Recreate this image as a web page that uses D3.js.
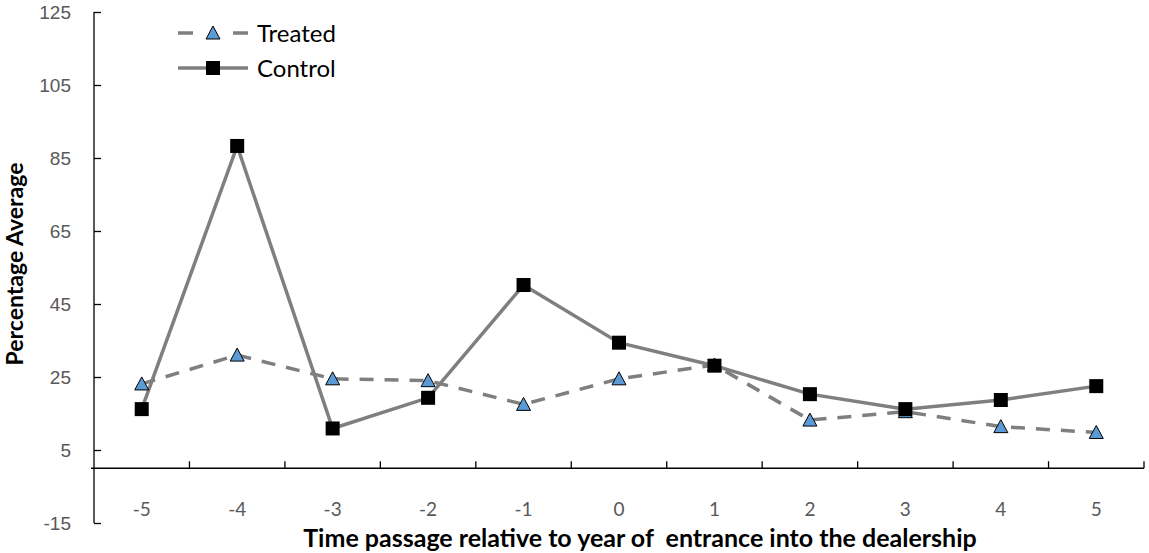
<!DOCTYPE html>
<html>
<head>
<meta charset="utf-8">
<script src="https://cdn.jsdelivr.net/npm/d3@7"></script>
<style>
  html, body { margin: 0; padding: 0; background: #fff; }
  svg { display: block; font-family: Lato, "Open Sans", sans-serif; }
</style>
</head>
<body>
<svg id="chart" width="1149" height="553"></svg>
<script>
// Years relative to dealership entrance
const years = ["-5", "-4", "-3", "-2", "-1", "0", "1", "2", "3", "4", "5"];
// Percentage averages per group
const treated = [23.1, 31.0, 24.5, 24.0, 17.5, 24.5, 28.3, 13.2, 15.5, 11.4, 9.8];
const control = [16.2, 88.3, 10.9, 19.3, 50.2, 34.4, 28.1, 20.3, 16.2, 18.7, 22.5];
// Value axis ticks
const yTicks = [-15, 5, 25, 45, 65, 85, 105, 125];

const svg = d3.select("#chart");
const plotLeft = 94, plotRight = 1144, plotTop = 12, plotBottom = 523;

const x = d3.scaleBand().domain(years).range([plotLeft, plotRight]).padding(0);
const y = d3.scaleLinear().domain([-15, 125]).range([plotBottom, plotTop]);
const cx = d => x(d) + x.bandwidth() / 2;

const lineColor = "#7f7f7f";
const axisColor = "#000";
const labelColor = "#595959";
const tickFont = "19px";

// Value axis with inward ticks; labels use a plain hyphen for negatives
const yAxis = svg.append("g").attr("transform", `translate(${plotLeft},0)`)
  .call(d3.axisRight(y).tickValues(yTicks).tickSize(7).tickFormat(d => String(d)));
yAxis.select(".domain").attr("stroke", axisColor).attr("stroke-width", 1.3)
  .attr("d", `M0,${y(125)}V${y(-15)}`);
yAxis.selectAll(".tick line").attr("stroke", axisColor).attr("stroke-width", 1.3);
yAxis.selectAll(".tick text")
  .attr("x", -23).attr("text-anchor", "end").attr("dy", "0.35em")
  .attr("fill", labelColor).style("font-size", tickFont);

// Category axis crossing at zero, ticks between categories pointing up
const y0 = y(0);
const xAxisG = svg.append("g");
xAxisG.append("line").attr("x1", plotLeft - 3).attr("x2", plotRight).attr("y1", y0).attr("y2", y0)
  .attr("stroke", axisColor).attr("stroke-width", 1.3);
const boundaries = years.map(d => x(d)).slice(1).concat([plotRight]);
xAxisG.selectAll("line.tk").data(boundaries).join("line").attr("class", "tk")
  .attr("x1", d => d).attr("x2", d => d).attr("y1", y0).attr("y2", y0 - 7)
  .attr("stroke", axisColor).attr("stroke-width", 1.3);
xAxisG.selectAll("text").data(years).join("text")
  .attr("x", d => cx(d)).attr("y", 509).attr("dy", "0.35em")
  .attr("text-anchor", "middle").attr("fill", labelColor).style("font-size", tickFont)
  .text(d => d);

// Axis titles
svg.append("text").attr("x", 640).attr("y", 547)
  .attr("text-anchor", "middle").attr("font-weight", "bold").style("font-size", "25px")
  .style("white-space", "pre")
  .attr("fill", "#000").text("Time passage relative to year of  entrance into the dealership");
svg.append("text").attr("transform", `translate(15,264) rotate(-90)`).attr("dy", "0.35em")
  .attr("text-anchor", "middle").attr("font-weight", "bold").style("font-size", "23px")
  .attr("fill", "#000").text("Percentage Average");

const line = d3.line().x((d, i) => cx(years[i])).y(d => y(d));

// Series lines
svg.append("path").datum(treated).attr("d", line).attr("fill", "none")
  .attr("stroke", lineColor).attr("stroke-width", 3.5).attr("stroke-dasharray", "14,11");
svg.append("path").datum(control).attr("d", line).attr("fill", "none")
  .attr("stroke", lineColor).attr("stroke-width", 3.5);

// Upright triangle marker, 14 wide by 13 tall, centred on the point
const triPath = "M0,-7L7,6L-7,6Z";

// Markers
svg.selectAll("path.tri").data(treated).join("path").attr("class", "tri")
  .attr("d", triPath).attr("transform", (d, i) => `translate(${cx(years[i])},${y(d)})`)
  .attr("fill", "#5b9bd5").attr("stroke", "#000").attr("stroke-width", 1);
svg.selectAll("rect.sq").data(control).join("rect").attr("class", "sq")
  .attr("x", (d, i) => cx(years[i]) - 7).attr("y", d => y(d) - 7)
  .attr("width", 14).attr("height", 14).attr("fill", "#000");

// Legend
const legend = svg.append("g");
const legendItems = [
  { name: "Treated", dash: "15,40", y: 33, marker: "tri" },
  { name: "Control", dash: null, y: 68, marker: "sq" }
];
legendItems.forEach(it => {
  legend.append("line").attr("x1", 178).attr("x2", 248).attr("y1", it.y).attr("y2", it.y)
    .attr("stroke", lineColor).attr("stroke-width", 3.5)
    .attr("stroke-dasharray", it.dash);
  if (it.marker === "tri") {
    legend.append("path").attr("d", triPath).attr("transform", `translate(213,${it.y})`)
      .attr("fill", "#5b9bd5").attr("stroke", "#000").attr("stroke-width", 1);
  } else {
    legend.append("rect").attr("x", 206).attr("y", it.y - 7).attr("width", 14).attr("height", 14)
      .attr("fill", "#000");
  }
  legend.append("text").attr("x", 257).attr("y", it.y + 9)
    .style("font-size", "24px").attr("fill", "#000").text(it.name);
});
</script>
</body>
</html>
